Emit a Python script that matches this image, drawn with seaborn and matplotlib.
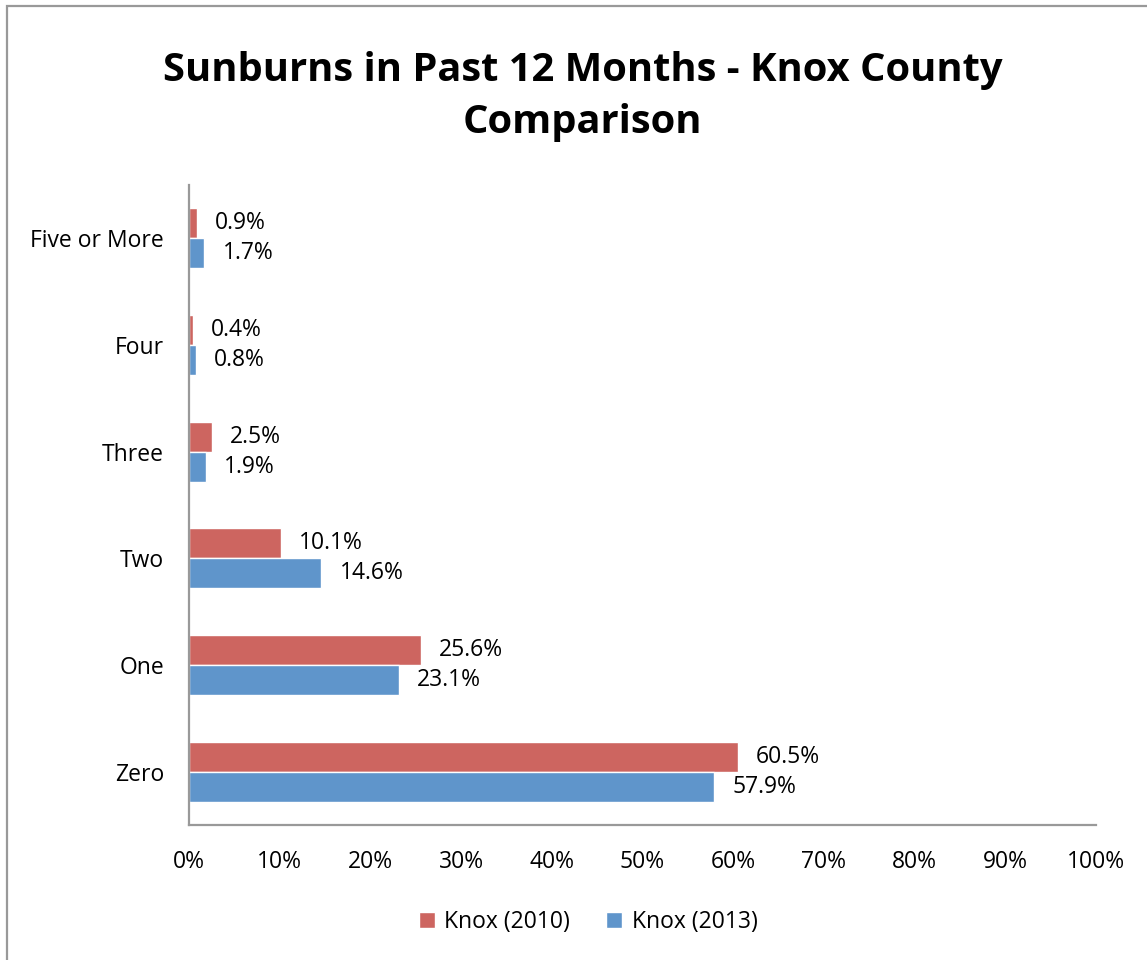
import pandas as pd
import matplotlib.pyplot as plt
import seaborn as sns
from matplotlib.patches import Rectangle
from matplotlib.ticker import PercentFormatter

# data (percent)
categories = ["Five or More", "Four", "Three", "Two", "One", "Zero"]
knox_2010 = [0.9, 0.4, 2.5, 10.1, 25.6, 60.5]
knox_2013 = [1.7, 0.8, 1.9, 14.6, 23.1, 57.9]
series = ["Knox (2010)", "Knox (2013)"]
colors = ["#CD6560", "#5F95CB"]

df = pd.DataFrame({
    "category": categories * 2,
    "value": knox_2010 + knox_2013,
    "series": [series[0]] * len(categories) + [series[1]] * len(categories),
})

sns.set_style("white")
plt.rcParams["font.family"] = ["Open Sans", "DejaVu Sans"]
plt.rcParams["text.color"] = "black"
plt.rcParams["xtick.color"] = "black"
plt.rcParams["ytick.color"] = "black"

fig = plt.figure(figsize=(11.47, 9.6), dpi=100)
ax = fig.add_axes([0.1648, 0.1406, 0.7907, 0.6667])

sns.barplot(data=df, x="value", y="category", hue="series", order=categories,
            hue_order=series, palette=colors, orient="h", width=0.56,
            saturation=1, ax=ax, legend=True)

for cont in ax.containers:
    ax.bar_label(cont, fmt="%.1f%%", padding=13, fontsize=16.5, color="black")

ax.set_xlim(0, 100)
ax.set_ylim(5.5, -0.5)
ax.xaxis.set_major_locator(plt.MultipleLocator(10))
ax.xaxis.set_major_formatter(PercentFormatter(decimals=0))
ax.set_xlabel("")
ax.set_ylabel("")
ax.tick_params(axis="x", length=0, pad=18, labelsize=16.5)
ax.tick_params(axis="y", length=0, pad=18, labelsize=16.5)
for s in ["top", "right"]:
    ax.spines[s].set_visible(False)
for s in ["left", "bottom"]:
    ax.spines[s].set_color("#999999")
    ax.spines[s].set_linewidth(1.6)

ax.legend(loc="center", bbox_to_anchor=(0.44, -0.152), ncol=2, frameon=False,
          fontsize=16.5, handlelength=0.7, handleheight=0.7, handletextpad=0.4,
          columnspacing=1.6)

fig.text(0.508, 0.8995, "Sunburns in Past 12 Months - Knox County\nComparison",
         ha="center", va="center", fontsize=28.7, fontweight="bold",
         linespacing=1.42)

# chart area frame
fig.patches.append(Rectangle((7 / 1147, -0.1), 1.2, 1 - 6 / 960 + 0.1,
                             transform=fig.transFigure, fill=False,
                             edgecolor="#999999", linewidth=1.6))

fig.savefig("out.png", dpi=100)
